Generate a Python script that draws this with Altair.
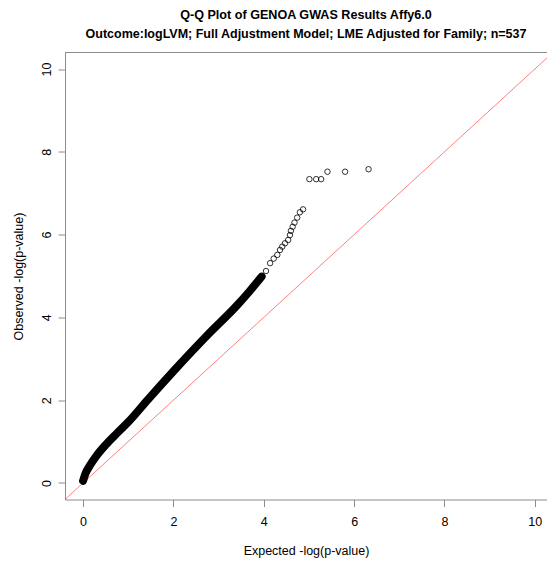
import altair as alt
import pandas as pd

# Dense part of the Q-Q curve (expected, observed)
dense_x = [0.0, 0.05, 0.15, 0.30, 0.50, 0.75, 1.00, 1.44, 2.00, 2.75, 3.40, 3.70, 3.95]
dense_y = [0.05, 0.22, 0.42, 0.66, 0.92, 1.20, 1.47, 2.02, 2.70, 3.57, 4.28, 4.65, 4.98]

# Sparse upper tail drawn as individual open circles
tail_x = [3.82, 3.9, 3.97, 4.05, 4.14, 4.22, 4.30, 4.36, 4.41, 4.47, 4.54, 4.58, 4.60, 4.64,
          4.68, 4.74, 4.80, 4.87, 5.01, 5.16, 5.27, 5.41, 5.80, 6.32]
tail_y = [4.82, 4.92, 5.0, 5.12, 5.31, 5.42, 5.51, 5.63, 5.71, 5.79, 5.87, 5.99, 6.09, 6.19,
          6.29, 6.41, 6.54, 6.61, 7.34, 7.34, 7.34, 7.52, 7.52, 7.58]

# Reference line y = x
ref_x = [-0.4, 10.4]
ref_y = [-0.4, 10.4]

x_ticks = [0, 2, 4, 6, 8, 10]
y_ticks = [0, 2, 4, 6, 8, 10]

dense = pd.DataFrame({"x": dense_x, "y": dense_y})
tail = pd.DataFrame({"x": tail_x, "y": tail_y})
ref = pd.DataFrame({"x": ref_x, "y": ref_y})

W, H = 482, 447
xs = alt.Scale(domain=[-0.4, 10.27], nice=False, zero=False)
ys = alt.Scale(domain=[-0.4, 10.4], nice=False, zero=False)

xax = alt.Axis(values=x_ticks, title="Expected -log(p-value)", grid=False,
               labelBaseline="top", labelPadding=9, titleY=54.5,
               titleBaseline="alphabetic")
yax = alt.Axis(values=y_ticks, title="Observed -log(p-value)", grid=False,
               labelAngle=-90, labelAlign="center", labelBaseline="alphabetic",
               labelPadding=8, titleX=-43, titleBaseline="alphabetic", titleAngle=-90)

refline = alt.Chart(ref).mark_line(color="#ff0000", strokeWidth=1, opacity=0.5, clip=True).encode(
    x=alt.X("x:Q", scale=xs, axis=xax),
    y=alt.Y("y:Q", scale=ys, axis=yax),
)

band = alt.Chart(dense).mark_line(color="black", strokeWidth=8, strokeCap="round",
                                  strokeJoin="round", interpolate="monotone").encode(
    x=alt.X("x:Q", scale=xs),
    y=alt.Y("y:Q", scale=ys),
)

pts = alt.Chart(tail).mark_point(shape="circle", filled=False, color="black",
                                 size=30, strokeWidth=0.8, opacity=1).encode(
    x=alt.X("x:Q", scale=xs),
    y=alt.Y("y:Q", scale=ys),
)

topline = alt.Chart(pd.DataFrame({"a": [0]})).mark_rule(color="#8c8c8c", strokeWidth=1).encode(
    x=alt.value(0), x2=alt.value(W), y=alt.value(0)
)

chart = alt.layer(refline, band, pts, topline).properties(
    width=W, height=H,
    title=alt.TitleParams(
        text="Q-Q Plot of GENOA GWAS Results Affy6.0",
        subtitle="Outcome:logLVM; Full Adjustment Model; LME Adjusted for Family; n=537",
        anchor="middle", font="Liberation Sans", fontSize=12.6, fontWeight="bold",
        color="black", subtitleFont="Liberation Sans", subtitleFontSize=12.5,
        subtitleFontWeight="bold", subtitleColor="black", subtitlePadding=6, offset=12,
    ),
    autosize=alt.AutoSizeParams(type="none"),
    padding={"left": 65, "top": 52.5, "right": 0, "bottom": 61.5},
).configure_view(stroke=None).configure_axis(
    domainColor="#8c8c8c", tickColor="#8c8c8c", tickSize=7,
    labelFont="Liberation Sans", labelFontSize=12.5, labelColor="black",
    titleFont="Liberation Sans", titleFontSize=12.5, titleFontWeight="normal", titleColor="black",
)

chart.save("out.html", embed_options={"renderer": "svg", "actions": False})
